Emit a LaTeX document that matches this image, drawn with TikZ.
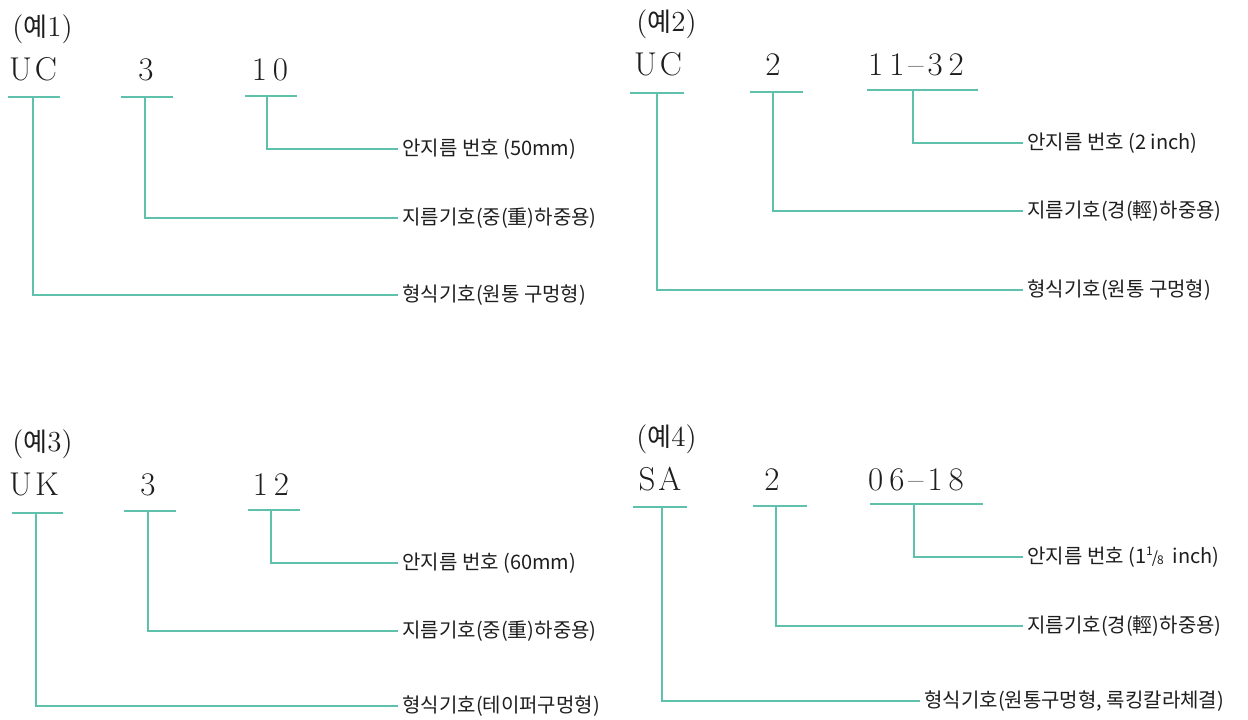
\documentclass[tikz,border=0pt]{standalone}
\usepackage{fontspec}
\newfontfamily\kr{Noto Sans CJK KR}
\definecolor{leadc}{RGB}{95,192,172}
\definecolor{ink}{RGB}{30,30,30}
\newcommand{\frEighth}{\raisebox{0.38em}{\fontsize{6}{6}\selectfont 1}\kern-0.05em{\fontsize{8}{8}\selectfont/}\kern-0.05em\raisebox{-0.05em}{\fontsize{6}{6}\selectfont 8}}
\newcommand{\ye}{{\kr\fontsize{13}{15}\selectfont 예}}
\begin{document}
\begin{tikzpicture}[x=0.5pt,y=-0.5pt,
  lead/.style={draw=leadc,line width=1.2pt},
  code/.style={anchor=base,inner sep=0pt,text=ink,font=\fontsize{16.5}{18}\selectfont},
  ttl/.style={anchor=base west,inner sep=0pt,text=ink,font=\fontsize{14.5}{16}\selectfont},
  lbl/.style={anchor=west,inner xsep=2pt,inner ysep=0pt,text=ink,font=\kr\fontsize{10}{12}\selectfont}]
\useasboundingbox (0,0) rectangle (1248,719);

% ---------- Example 1 ----------
\node[ttl] (t1) at (12,36) {(\ye 1)};
\node[code] (c1a) at (33,80) {U\kern1.5pt C};
\node[code] (c1b) at (146,80) {3};
\node[code] (c1c) at (270,80) {1\kern3pt 0};
\coordinate (u1a) at (33,97);
\coordinate (u1b) at (145,97);
\coordinate (u1c) at (267,96);
\draw[lead] (8,97) -- (60,97);
\draw[lead] (121,97) -- (173,97);
\draw[lead] (245,96) -- (297,96);
\node[lbl] (l1a) at (398,149) {안지름 번호 (50mm)};
\node[lbl] (l1b) at (398,218) {지름기호(중(重)하중용)};
\node[lbl] (l1c) at (398,295) {형식기호(원통 구멍형)};
\draw[lead] (u1c) |- (l1a.west);
\draw[lead] (u1b) |- (l1b.west);
\draw[lead] (u1a) |- (l1c.west);

% ---------- Example 2 ----------
\node[ttl] (t2) at (636,31) {(\ye 2)};
\node[code] (c2a) at (658,75) {U\kern1.5pt C};
\node[code] (c2b) at (773,75) {2};
\node[code] (c2c) at (916,75) {1\kern3pt 1\kern2pt --\kern2pt 3\kern3pt 2};
\coordinate (u2a) at (657,93);
\coordinate (u2b) at (773,92);
\coordinate (u2c) at (913,90);
\draw[lead] (630,93) -- (684,93);
\draw[lead] (750,92) -- (803,92);
\draw[lead] (867,90) -- (978,90);
\node[lbl] (l2a) at (1023,143) {안지름 번호 (2 inch)};
\node[lbl] (l2b) at (1023,211) {지름기호(경(輕)하중용)};
\node[lbl] (l2c) at (1023,290) {형식기호(원통 구멍형)};
\draw[lead] (u2c) |- (l2a.west);
\draw[lead] (u2b) |- (l2b.west);
\draw[lead] (u2a) |- (l2c.west);

% ---------- Example 3 ----------
\node[ttl] (t3) at (12,451) {(\ye 3)};
\node[code] (c3a) at (34,495) {U\kern1.5pt K};
\node[code] (c3b) at (148,495) {3};
\node[code] (c3c) at (271,495) {1\kern3pt 2};
\coordinate (u3a) at (36,513);
\coordinate (u3b) at (148,511);
\coordinate (u3c) at (271,510);
\draw[lead] (12,513) -- (63,513);
\draw[lead] (124,511) -- (176,511);
\draw[lead] (248,510) -- (300,510);
\node[lbl] (l3a) at (398,563) {안지름 번호 (60mm)};
\node[lbl] (l3b) at (398,631) {지름기호(중(重)하중용)};
\node[lbl] (l3c) at (398,706) {형식기호(테이퍼구멍형)};
\draw[lead] (u3c) |- (l3a.west);
\draw[lead] (u3b) |- (l3b.west);
\draw[lead] (u3a) |- (l3c.west);

% ---------- Example 4 ----------
\node[ttl] (t4) at (636,446) {(\ye 4)};
\node[code] (c4a) at (660,490) {S\kern1.5pt A};
\node[code] (c4b) at (772,490) {2};
\node[code] (c4c) at (916,490) {0\kern3pt 6\kern2pt --\kern2pt 1\kern3pt 8};
\coordinate (u4a) at (662,507);
\coordinate (u4b) at (776,506);
\coordinate (u4c) at (914,504);
\draw[lead] (633,507) -- (687,507);
\draw[lead] (753,506) -- (807,506);
\draw[lead] (870,504) -- (983,504);
\node[lbl] (l4a) at (1023,557) {안지름 번호 (1\frEighth\ \ inch)};
\node[lbl] (l4b) at (1023,626) {지름기호(경(輕)하중용)};
\node[lbl] (l4c) at (920,701) {형식기호(원통구멍형, 록킹칼라체결)};
\draw[lead] (u4c) |- (l4a.west);
\draw[lead] (u4b) |- (l4b.west);
\draw[lead] (u4a) |- (l4c.west);
\end{tikzpicture}
\end{document}
